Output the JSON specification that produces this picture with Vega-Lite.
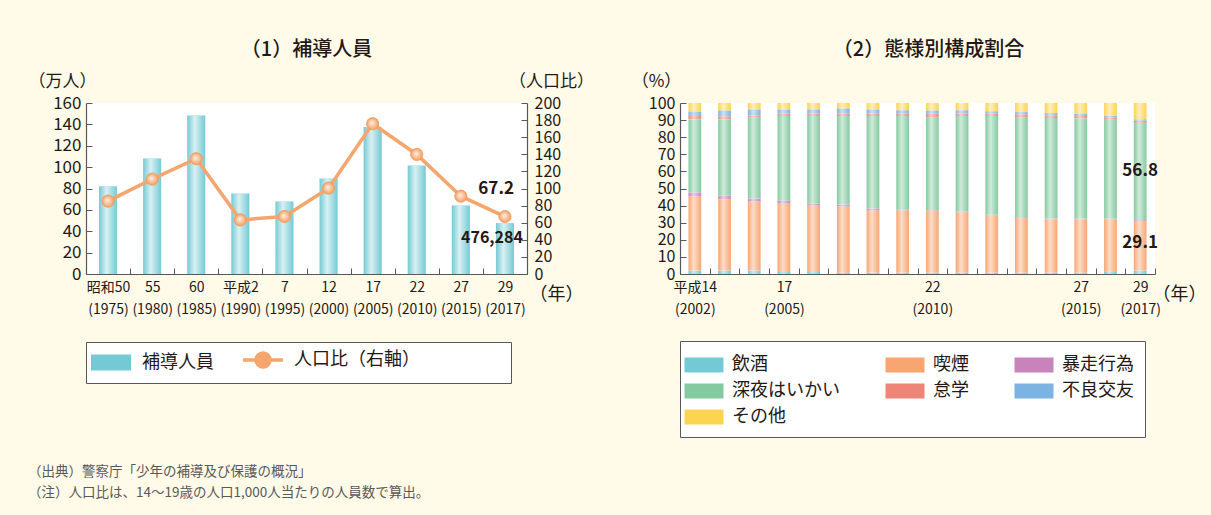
{
  "$schema": "https://vega.github.io/schema/vega-lite/v6.json",
  "background": "#fffbe8",
  "padding": {"left": 28, "top": 39, "right": 60, "bottom": 60},
  "title": {
    "text": ["（出典）警察庁「少年の補導及び保護の概況」", "（注）人口比は、14～19歳の人口1,000人当たりの人員数で算出。"],
    "orient": "bottom", "anchor": "start", "frame": "bounds",
    "font": "Noto Sans CJK JP", "fontSize": 13.5, "fontWeight": "normal", "color": "#595757",
    "lineHeight": 21, "offset": 27
  },
  "spacing": 37,
  "resolve": {"scale": {"color": "independent"}, "legend": {"color": "independent"}},
  "hconcat": [
    {
      "width": 441, "height": 171,
      "title": {"text": "（1）補導人員", "font": "Noto Sans CJK JP", "fontSize": 20, "fontWeight": 500, "color": "#231815", "offset": 12.5, "anchor": "middle"},
      "data": {"values": [
        {"t": "昭和50|(1975)", "n": 82.0, "r": 85.2},
        {"t": "55|(1980)", "n": 108.0, "r": 110.9},
        {"t": "60|(1985)", "n": 148.4, "r": 134.8},
        {"t": "平成2|(1990)", "n": 75.3, "r": 63.3},
        {"t": "7|(1995)", "n": 67.8, "r": 67.2},
        {"t": "12|(2000)", "n": 89.4, "r": 100.4},
        {"t": "17|(2005)", "n": 137.5, "r": 175.8},
        {"t": "22|(2010)", "n": 101.6, "r": 139.8},
        {"t": "27|(2015)", "n": 64.1, "r": 91.0},
        {"t": "29|(2017)", "n": 47.6, "r": 67.2, "p": 476284}
      ]},
      "layer": [
        {
          "layer": [
            {
              "mark": {"type": "bar", "width": {"band": 0.41}},
              "encoding": {
                "x": {"field": "t", "type": "nominal", "sort": null,
                  "scale": {"paddingInner": 0, "paddingOuter": 0},
                  "axis": {"title": "（年）", "titleX": 443, "titleY": 20, "titleAlign": "left", "titleBaseline": "middle",
                    "titleFontSize": 18, "labelExpr": "split(datum.label, '|')", "labelAngle": 0, "labelFontSize": 14,
                    "labelLineHeight": 22, "labelBaseline": "top", "labelPadding": 12, "tickSize": -6, "tickBand": "extent"}},
                "y": {"field": "n", "type": "quantitative", "scale": {"domain": [0, 160], "nice": false},
                  "axis": {"title": "（万人）", "titleAngle": 0, "titleX": -24, "titleY": -22, "titleAlign": "center", "titleBaseline": "middle",
                    "values": [0, 20, 40, 60, 80, 100, 120, 140, 160], "labelOverlap": false, "tickSize": -6, "labelPadding": 11}},
                "color": {"datum": "補導人員", "type": "nominal",
                  "scale": {"domain": ["補導人員", "人口比（右軸）"], "range": ["#74cad4", "#f5a66f"]},
                  "legend": {
                    "orient": "bottom", "direction": "horizontal", "offset": 26, "title": null, "symbolType": "square",
                    "symbolSize": 1600, "symbolOffset": 7, "labelFontSize": 18, "labelFont": "Noto Sans CJK JP", "labelColor": "#231815",
                    "strokeColor": "#595757", "fillColor": "white", "padding": 9, "columnPadding": 22, "labelOffset": 22,
                    "encode": {"symbols": {"update": {
                      "shape": {"signal": "datum.value === '補導人員' ? 'M-1,-0.4H1V0.4H-1Z' : 'M-1,0H1M0.35,0A0.35,0.35,0,1,1,-0.35,0A0.35,0.35,0,1,1,0.35,0M11.6,0'"},
                      "size": {"value": 1600},
                      "fill": [
                        {"test": "datum.value === '補導人員'", "value": {"gradient": "linear", "stops": [{"offset": 0, "color": "#74cad4"}, {"offset": 0.45, "color": "#dff3f5"}, {"offset": 1, "color": "#74cad4"}]}},
                        {"value": "#f5a66f"}
                      ],
                      "stroke": {"value": "#f5a66f"},
                      "strokeWidth": {"signal": "datum.value === '補導人員' ? 0 : 3.5"},
                      "opacity": {"value": 1},
                      "fillOpacity": {"value": 1},
                      "strokeOpacity": {"value": 1}
                    }}}
                  }}
              }
            },
            {
              "mark": {"type": "bar", "width": {"band": 0.41},
                "fill": {"gradient": "linear", "stops": [{"offset": 0, "color": "rgba(255,255,255,0)"}, {"offset": 0.42, "color": "rgba(255,255,255,0.72)"}, {"offset": 1, "color": "rgba(255,255,255,0)"}]}},
              "encoding": {
                "x": {"field": "t", "type": "nominal", "sort": null},
                "y": {"field": "n", "type": "quantitative",
                  "axis": {"title": "（万人）", "titleAngle": 0, "titleX": -24, "titleY": -22, "titleAlign": "center", "titleBaseline": "middle",
                    "values": [0, 20, 40, 60, 80, 100, 120, 140, 160], "labelOverlap": false, "tickSize": -6, "labelPadding": 11}}
              }
            },
            {
              "transform": [{"filter": "isValid(datum.p)"}],
              "mark": {"type": "text", "font": "Noto Sans CJK JP", "fontSize": 16, "fontWeight": "bold", "color": "#231815", "dx": -13, "dy": 15, "align": "center", "baseline": "middle"},
              "encoding": {
                "x": {"field": "t", "type": "nominal", "sort": null},
                "y": {"field": "n", "type": "quantitative",
                  "axis": {"title": "（万人）", "titleAngle": 0, "titleX": -24, "titleY": -22, "titleAlign": "center", "titleBaseline": "middle",
                    "values": [0, 20, 40, 60, 80, 100, 120, 140, 160], "labelOverlap": false, "tickSize": -6, "labelPadding": 11}},
                "text": {"field": "p", "type": "quantitative", "format": ","}
              }
            }
          ]
        },
        {
          "layer": [
            {
              "mark": {"type": "line", "strokeWidth": 3.5},
              "encoding": {
                "x": {"field": "t", "type": "nominal", "sort": null},
                "y": {"field": "r", "type": "quantitative", "scale": {"domain": [0, 200], "nice": false},
                  "axis": {"orient": "right", "title": "（人口比）", "titleAngle": 0, "titleX": 24, "titleY": -22, "titleAlign": "center", "titleBaseline": "middle",
                    "values": [0, 20, 40, 60, 80, 100, 120, 140, 160, 180, 200], "labelOverlap": false, "labelFontSize": 16, "tickSize": -6, "labelPadding": 13}},
                "color": {"datum": "人口比（右軸）", "type": "nominal",
                  "scale": {"domain": ["補導人員", "人口比（右軸）"], "range": ["#74cad4", "#f5a66f"]},
                  "legend": {
                    "orient": "bottom", "direction": "horizontal", "offset": 26, "title": null, "symbolType": "square",
                    "symbolSize": 1600, "symbolOffset": 7, "labelFontSize": 18, "labelFont": "Noto Sans CJK JP", "labelColor": "#231815",
                    "strokeColor": "#595757", "fillColor": "white", "padding": 9, "columnPadding": 22, "labelOffset": 22,
                    "encode": {"symbols": {"update": {
                      "shape": {"signal": "datum.value === '補導人員' ? 'M-1,-0.4H1V0.4H-1Z' : 'M-1,0H1M0.35,0A0.35,0.35,0,1,1,-0.35,0A0.35,0.35,0,1,1,0.35,0M11.6,0'"},
                      "size": {"value": 1600},
                      "fill": [
                        {"test": "datum.value === '補導人員'", "value": {"gradient": "linear", "stops": [{"offset": 0, "color": "#74cad4"}, {"offset": 0.45, "color": "#dff3f5"}, {"offset": 1, "color": "#74cad4"}]}},
                        {"value": "#f5a66f"}
                      ],
                      "stroke": {"value": "#f5a66f"},
                      "strokeWidth": {"signal": "datum.value === '補導人員' ? 0 : 3.5"},
                      "opacity": {"value": 1},
                      "fillOpacity": {"value": 1},
                      "strokeOpacity": {"value": 1}
                    }}}
                  }}
              }
            },
            {
              "mark": {"type": "point", "filled": true, "size": 150, "opacity": 1, "stroke": "#f09a5c", "strokeWidth": 0.8,
                "fill": {"gradient": "radial", "x1": 0.42, "y1": 0.42, "r1": 0, "x2": 0.5, "y2": 0.5, "r2": 0.5,
                  "stops": [{"offset": 0, "color": "#fff1e6"}, {"offset": 1, "color": "#f39e60"}]}},
              "encoding": {
                "x": {"field": "t", "type": "nominal", "sort": null},
                "y": {"field": "r", "type": "quantitative",
                  "axis": {"orient": "right", "title": "（人口比）", "titleAngle": 0, "titleX": 24, "titleY": -22, "titleAlign": "center", "titleBaseline": "middle",
                    "values": [0, 20, 40, 60, 80, 100, 120, 140, 160, 180, 200], "labelOverlap": false, "labelFontSize": 16, "tickSize": -6, "labelPadding": 13}}
              }
            },
            {
              "transform": [{"filter": "isValid(datum.p)"}],
              "mark": {"type": "text", "font": "Noto Sans CJK JP", "fontSize": 17, "fontWeight": "bold", "color": "#231815", "dx": 9, "dy": -28, "align": "right", "baseline": "middle"},
              "encoding": {
                "x": {"field": "t", "type": "nominal", "sort": null},
                "y": {"field": "r", "type": "quantitative",
                  "axis": {"orient": "right", "title": "（人口比）", "titleAngle": 0, "titleX": 24, "titleY": -22, "titleAlign": "center", "titleBaseline": "middle",
                    "values": [0, 20, 40, 60, 80, 100, 120, 140, 160, 180, 200], "labelOverlap": false, "labelFontSize": 16, "tickSize": -6, "labelPadding": 13}},
                "text": {"field": "r", "type": "quantitative", "format": ".1f"}
              }
            }
          ]
        }
      ],
      "resolve": {"scale": {"y": "independent"}}
    },
    {
      "width": 475, "height": 171,
      "title": {"text": "（2）態様別構成割合", "font": "Noto Sans CJK JP", "fontSize": 20, "fontWeight": 500, "color": "#231815", "offset": 12.5, "anchor": "middle", "dx": 11},
      "data": {"values": [
        {"y": 2002, "c": "飲酒", "o": 1, "v": 2.0}, {"y": 2002, "c": "喫煙", "o": 2, "v": 43.3}, {"y": 2002, "c": "暴走行為", "o": 3, "v": 2.4}, {"y": 2002, "c": "深夜はいかい", "o": 4, "v": 42.7}, {"y": 2002, "c": "怠学", "o": 5, "v": 2.0}, {"y": 2002, "c": "不良交友", "o": 6, "v": 2.7}, {"y": 2002, "c": "その他", "o": 7, "v": 4.9},
        {"y": 2003, "c": "飲酒", "o": 1, "v": 2.0}, {"y": 2003, "c": "喫煙", "o": 2, "v": 41.6}, {"y": 2003, "c": "暴走行為", "o": 3, "v": 2.1}, {"y": 2003, "c": "深夜はいかい", "o": 4, "v": 44.7}, {"y": 2003, "c": "怠学", "o": 5, "v": 1.8}, {"y": 2003, "c": "不良交友", "o": 6, "v": 3.5}, {"y": 2003, "c": "その他", "o": 7, "v": 4.3},
        {"y": 2004, "c": "飲酒", "o": 1, "v": 2.0}, {"y": 2004, "c": "喫煙", "o": 2, "v": 40.4}, {"y": 2004, "c": "暴走行為", "o": 3, "v": 1.7}, {"y": 2004, "c": "深夜はいかい", "o": 4, "v": 47.5}, {"y": 2004, "c": "怠学", "o": 5, "v": 1.2}, {"y": 2004, "c": "不良交友", "o": 6, "v": 3.5}, {"y": 2004, "c": "その他", "o": 7, "v": 3.7},
        {"y": 2005, "c": "飲酒", "o": 1, "v": 1.2}, {"y": 2005, "c": "喫煙", "o": 2, "v": 40.0}, {"y": 2005, "c": "暴走行為", "o": 3, "v": 1.8}, {"y": 2005, "c": "深夜はいかい", "o": 4, "v": 49.4}, {"y": 2005, "c": "怠学", "o": 5, "v": 1.4}, {"y": 2005, "c": "不良交友", "o": 6, "v": 2.5}, {"y": 2005, "c": "その他", "o": 7, "v": 3.7},
        {"y": 2006, "c": "飲酒", "o": 1, "v": 1.2}, {"y": 2006, "c": "喫煙", "o": 2, "v": 38.8}, {"y": 2006, "c": "暴走行為", "o": 3, "v": 1.2}, {"y": 2006, "c": "深夜はいかい", "o": 4, "v": 51.2}, {"y": 2006, "c": "怠学", "o": 5, "v": 1.4}, {"y": 2006, "c": "不良交友", "o": 6, "v": 2.5}, {"y": 2006, "c": "その他", "o": 7, "v": 3.7},
        {"y": 2007, "c": "飲酒", "o": 1, "v": 0.8}, {"y": 2007, "c": "喫煙", "o": 2, "v": 38.7}, {"y": 2007, "c": "暴走行為", "o": 3, "v": 1.1}, {"y": 2007, "c": "深夜はいかい", "o": 4, "v": 51.8}, {"y": 2007, "c": "怠学", "o": 5, "v": 1.4}, {"y": 2007, "c": "不良交友", "o": 6, "v": 3.1}, {"y": 2007, "c": "その他", "o": 7, "v": 3.1},
        {"y": 2008, "c": "飲酒", "o": 1, "v": 0.8}, {"y": 2008, "c": "喫煙", "o": 2, "v": 36.3}, {"y": 2008, "c": "暴走行為", "o": 3, "v": 1.2}, {"y": 2008, "c": "深夜はいかい", "o": 4, "v": 54.1}, {"y": 2008, "c": "怠学", "o": 5, "v": 1.4}, {"y": 2008, "c": "不良交友", "o": 6, "v": 2.5}, {"y": 2008, "c": "その他", "o": 7, "v": 3.7},
        {"y": 2009, "c": "飲酒", "o": 1, "v": 0.8}, {"y": 2009, "c": "喫煙", "o": 2, "v": 36.3}, {"y": 2009, "c": "暴走行為", "o": 3, "v": 0.6}, {"y": 2009, "c": "深夜はいかい", "o": 4, "v": 54.7}, {"y": 2009, "c": "怠学", "o": 5, "v": 1.4}, {"y": 2009, "c": "不良交友", "o": 6, "v": 2.0}, {"y": 2009, "c": "その他", "o": 7, "v": 4.2},
        {"y": 2010, "c": "飲酒", "o": 1, "v": 0.8}, {"y": 2010, "c": "喫煙", "o": 2, "v": 36.3}, {"y": 2010, "c": "暴走行為", "o": 3, "v": 0.4}, {"y": 2010, "c": "深夜はいかい", "o": 4, "v": 54.1}, {"y": 2010, "c": "怠学", "o": 5, "v": 2.1}, {"y": 2010, "c": "不良交友", "o": 6, "v": 2.0}, {"y": 2010, "c": "その他", "o": 7, "v": 4.3},
        {"y": 2011, "c": "飲酒", "o": 1, "v": 0.8}, {"y": 2011, "c": "喫煙", "o": 2, "v": 35.3}, {"y": 2011, "c": "暴走行為", "o": 3, "v": 0.4}, {"y": 2011, "c": "深夜はいかい", "o": 4, "v": 55.9}, {"y": 2011, "c": "怠学", "o": 5, "v": 1.4}, {"y": 2011, "c": "不良交友", "o": 6, "v": 2.0}, {"y": 2011, "c": "その他", "o": 7, "v": 4.2},
        {"y": 2012, "c": "飲酒", "o": 1, "v": 0.8}, {"y": 2012, "c": "喫煙", "o": 2, "v": 33.4}, {"y": 2012, "c": "暴走行為", "o": 3, "v": 0.4}, {"y": 2012, "c": "深夜はいかい", "o": 4, "v": 57.8}, {"y": 2012, "c": "怠学", "o": 5, "v": 1.4}, {"y": 2012, "c": "不良交友", "o": 6, "v": 1.4}, {"y": 2012, "c": "その他", "o": 7, "v": 4.8},
        {"y": 2013, "c": "飲酒", "o": 1, "v": 0.8}, {"y": 2013, "c": "喫煙", "o": 2, "v": 32.0}, {"y": 2013, "c": "暴走行為", "o": 3, "v": 0.4}, {"y": 2013, "c": "深夜はいかい", "o": 4, "v": 58.4}, {"y": 2013, "c": "怠学", "o": 5, "v": 1.8}, {"y": 2013, "c": "不良交友", "o": 6, "v": 1.3}, {"y": 2013, "c": "その他", "o": 7, "v": 5.3},
        {"y": 2014, "c": "飲酒", "o": 1, "v": 0.8}, {"y": 2014, "c": "喫煙", "o": 2, "v": 31.2}, {"y": 2014, "c": "暴走行為", "o": 3, "v": 0.4}, {"y": 2014, "c": "深夜はいかい", "o": 4, "v": 58.8}, {"y": 2014, "c": "怠学", "o": 5, "v": 1.6}, {"y": 2014, "c": "不良交友", "o": 6, "v": 1.3}, {"y": 2014, "c": "その他", "o": 7, "v": 5.9},
        {"y": 2015, "c": "飲酒", "o": 1, "v": 0.8}, {"y": 2015, "c": "喫煙", "o": 2, "v": 31.2}, {"y": 2015, "c": "暴走行為", "o": 3, "v": 0.4}, {"y": 2015, "c": "深夜はいかい", "o": 4, "v": 58.6}, {"y": 2015, "c": "怠学", "o": 5, "v": 1.4}, {"y": 2015, "c": "不良交友", "o": 6, "v": 1.2}, {"y": 2015, "c": "その他", "o": 7, "v": 6.4},
        {"y": 2016, "c": "飲酒", "o": 1, "v": 1.2}, {"y": 2016, "c": "喫煙", "o": 2, "v": 30.8}, {"y": 2016, "c": "暴走行為", "o": 3, "v": 0.4}, {"y": 2016, "c": "深夜はいかい", "o": 4, "v": 57.8}, {"y": 2016, "c": "怠学", "o": 5, "v": 1.2}, {"y": 2016, "c": "不良交友", "o": 6, "v": 1.0}, {"y": 2016, "c": "その他", "o": 7, "v": 7.6},
        {"y": 2017, "c": "飲酒", "o": 1, "v": 2.0}, {"y": 2017, "c": "喫煙", "o": 2, "v": 29.1}, {"y": 2017, "c": "暴走行為", "o": 3, "v": 0.5}, {"y": 2017, "c": "深夜はいかい", "o": 4, "v": 56.8}, {"y": 2017, "c": "怠学", "o": 5, "v": 1.2}, {"y": 2017, "c": "不良交友", "o": 6, "v": 0.9}, {"y": 2017, "c": "その他", "o": 7, "v": 9.5}
      ]},
      "layer": [
        {
          "mark": {"type": "bar", "width": {"band": 0.43}},
          "encoding": {
            "x": {"field": "y", "type": "ordinal",
              "scale": {"paddingInner": 0, "paddingOuter": 0},
              "axis": {"title": "（年）", "titleX": 472, "titleY": 20, "titleAlign": "left", "titleBaseline": "middle", "titleFontSize": 18,
                "labelExpr": "datum.value == 2002 ? ['平成14', '(2002)'] : datum.value == 2005 ? ['17', '(2005)'] : datum.value == 2010 ? ['22', '(2010)'] : datum.value == 2015 ? ['27', '(2015)'] : datum.value == 2017 ? ['29', '(2017)'] : ''",
                "labelAngle": 0, "labelFontSize": 14, "labelLineHeight": 22, "labelBaseline": "top", "labelPadding": 12, "tickSize": -6, "tickBand": "extent"}},
            "y": {"field": "v", "type": "quantitative", "stack": "zero", "scale": {"domain": [0, 100], "nice": false},
              "axis": {"title": "（%）", "titleAngle": 0, "titleX": -24, "titleY": -22, "titleAlign": "center", "titleBaseline": "middle",
                "values": [0, 10, 20, 30, 40, 50, 60, 70, 80, 90, 100], "labelOverlap": false, "labelFontSize": 16, "tickSize": -6, "labelPadding": 11}},
            "color": {"field": "c", "type": "nominal",
              "sort": ["飲酒", "喫煙", "暴走行為", "深夜はいかい", "怠学", "不良交友", "その他"],
              "scale": {"domain": ["飲酒", "喫煙", "暴走行為", "深夜はいかい", "怠学", "不良交友", "その他"],
                "range": ["#74cad4", "#f7a672", "#c883bd", "#84caa0", "#ee8576", "#7db3e2", "#fdd450"]},
              "legend": {
                "orient": "bottom", "direction": "horizontal", "columns": 3, "title": null, "offset": 25,
                "symbolType": "M-1.5,-0.58H1.5V0.58H-1.5Z", "symbolSize": 676, "symbolStrokeWidth": 0,
                "labelFontSize": 18, "labelFont": "Noto Sans CJK JP", "labelColor": "#231815", "labelOffset": 15,
                "strokeColor": "#595757", "fillColor": "white", "padding": 11, "columnPadding": 45, "rowPadding": 4,
                "encode": {"symbols": {"update": {
                  "fill": [
                    {"test": "datum.value === '飲酒'", "value": {"gradient": "linear", "stops": [{"offset": 0, "color": "#74cad4"}, {"offset": 0.45, "color": "#dff3f5"}, {"offset": 1, "color": "#74cad4"}]}},
                    {"test": "datum.value === '喫煙'", "value": {"gradient": "linear", "stops": [{"offset": 0, "color": "#f7a672"}, {"offset": 0.45, "color": "#fde4d3"}, {"offset": 1, "color": "#f7a672"}]}},
                    {"test": "datum.value === '暴走行為'", "value": {"gradient": "linear", "stops": [{"offset": 0, "color": "#c883bd"}, {"offset": 0.45, "color": "#efdcec"}, {"offset": 1, "color": "#c883bd"}]}},
                    {"test": "datum.value === '深夜はいかい'", "value": {"gradient": "linear", "stops": [{"offset": 0, "color": "#84caa0"}, {"offset": 0.45, "color": "#ddf0e4"}, {"offset": 1, "color": "#84caa0"}]}},
                    {"test": "datum.value === '怠学'", "value": {"gradient": "linear", "stops": [{"offset": 0, "color": "#ee8576"}, {"offset": 0.45, "color": "#fbd9d3"}, {"offset": 1, "color": "#ee8576"}]}},
                    {"test": "datum.value === '不良交友'", "value": {"gradient": "linear", "stops": [{"offset": 0, "color": "#7db3e2"}, {"offset": 0.45, "color": "#ddebf8"}, {"offset": 1, "color": "#7db3e2"}]}},
                    {"value": {"gradient": "linear", "stops": [{"offset": 0, "color": "#fdd450"}, {"offset": 0.45, "color": "#fff4cf"}, {"offset": 1, "color": "#fdd450"}]}}
                  ],
                  "opacity": {"value": 1},
                  "fillOpacity": {"value": 1}
                }}}
              }},
            "order": {"field": "o", "type": "quantitative"}
          }
        },
        {
          "mark": {"type": "bar", "width": {"band": 0.43},
            "fill": {"gradient": "linear", "stops": [{"offset": 0, "color": "rgba(255,255,255,0)"}, {"offset": 0.42, "color": "rgba(255,255,255,0.62)"}, {"offset": 1, "color": "rgba(255,255,255,0)"}]}},
          "encoding": {
            "x": {"field": "y", "type": "ordinal"},
            "y": {"aggregate": "sum", "field": "v", "type": "quantitative",
              "axis": {"title": "（%）", "titleAngle": 0, "titleX": -24, "titleY": -22, "titleAlign": "center", "titleBaseline": "middle",
                "values": [0, 10, 20, 30, 40, 50, 60, 70, 80, 90, 100], "labelOverlap": false, "labelFontSize": 16, "tickSize": -6, "labelPadding": 11}}
          }
        },
        {
          "transform": [
            {"stack": "v", "groupby": ["y"], "sort": [{"field": "o", "order": "ascending"}], "as": ["v0", "v1"]},
            {"filter": "datum.y == 2017 && datum.c == '深夜はいかい'"}
          ],
          "mark": {"type": "text", "font": "Noto Sans CJK JP", "fontSize": 17, "fontWeight": "bold", "color": "#231815", "dy": -49, "align": "center", "baseline": "middle"},
          "encoding": {
            "x": {"field": "y", "type": "ordinal"},
            "y": {"field": "v0", "type": "quantitative",
              "axis": {"title": "（%）", "titleAngle": 0, "titleX": -24, "titleY": -22, "titleAlign": "center", "titleBaseline": "middle",
                "values": [0, 10, 20, 30, 40, 50, 60, 70, 80, 90, 100], "labelOverlap": false, "labelFontSize": 16, "tickSize": -6, "labelPadding": 11}},
            "text": {"field": "v", "type": "quantitative", "format": ".1f"}
          }
        },
        {
          "transform": [
            {"stack": "v", "groupby": ["y"], "sort": [{"field": "o", "order": "ascending"}], "as": ["v0", "v1"]},
            {"filter": "datum.y == 2017 && datum.c == '喫煙'"}
          ],
          "mark": {"type": "text", "font": "Noto Sans CJK JP", "fontSize": 17, "fontWeight": "bold", "color": "#231815", "dy": -28, "align": "center", "baseline": "middle"},
          "encoding": {
            "x": {"field": "y", "type": "ordinal"},
            "y": {"field": "v0", "type": "quantitative",
              "axis": {"title": "（%）", "titleAngle": 0, "titleX": -24, "titleY": -22, "titleAlign": "center", "titleBaseline": "middle",
                "values": [0, 10, 20, 30, 40, 50, 60, 70, 80, 90, 100], "labelOverlap": false, "labelFontSize": 16, "tickSize": -6, "labelPadding": 11}},
            "text": {"field": "v", "type": "quantitative", "format": ".1f"}
          }
        }
      ]
    }
  ],
  "config": {
    "font": "Noto Sans CJK JP",
    "view": {"fill": "white", "stroke": null},
    "axis": {
      "grid": false, "domainColor": "#595757", "tickColor": "#595757", "domainWidth": 1.2, "labelOverlap": false,
      "labelColor": "#231815", "titleColor": "#231815", "labelFontSize": 16, "labelFont": "Noto Sans CJK JP",
      "titleFont": "Noto Sans CJK JP", "titleFontSize": 17, "titleFontWeight": "normal"
    },
    "axisY": {"labelFontSize": 17}
  }
}
